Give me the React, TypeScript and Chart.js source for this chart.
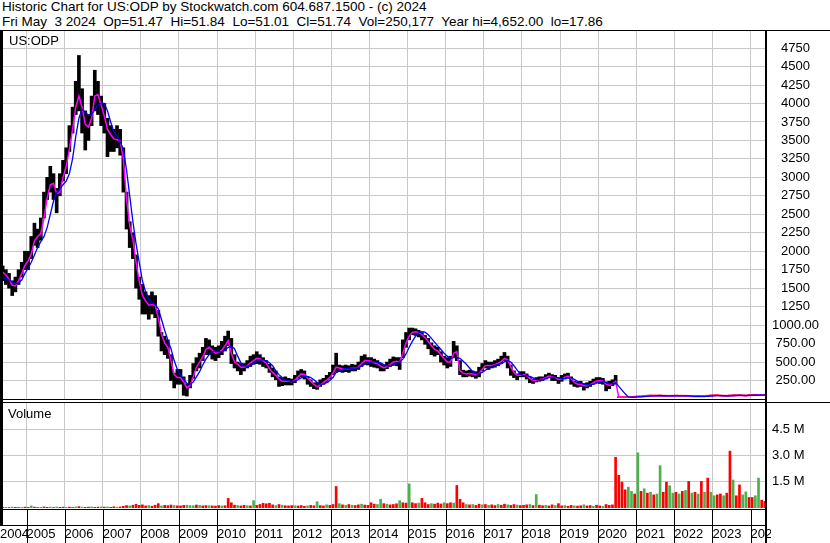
import { useEffect, useRef } from "react";
import { Chart, registerables } from "chart.js";

Chart.register(...registerables);

// ---------- data (monthly, first bar = May 2004) ----------
const firstYear = 2004;
const firstMonth = 5;

const yearLabels = ["2004", "2005", "2006", "2007", "2008", "2009", "2010", "2011", "2012", "2013", "2014", "2015", "2016", "2017", "2018", "2019", "2020", "2021", "2022", "2023", "2024"];
const priceTicks = [250, 500, 750, 1000, 1250, 1500, 1750, 2000, 2250, 2500, 2750, 3000, 3250, 3500, 3750, 4000, 4250, 4500, 4750];
const volumeTicks = [1.5, 3.0, 4.5];

const priceHigh = [
  1800, 1750, 1700, 1600, 1650, 1750, 1850, 2000,
  2000, 2200, 2380, 2300, 2450, 2800, 3000, 3150, 3050, 2850, 3050, 3230,
  3400, 3700, 3950, 4300, 4650, 4200, 3900, 3850, 4100, 4450, 4300, 4100,
  4000, 3800, 3700, 3650, 3700, 3650, 3400, 2800, 2400, 2250, 1950, 1650,
  1550, 1450, 1400, 1450, 1400, 1200, 900, 850, 800, 600, 350, 400,
  400, 300, 200, 320, 480, 560, 620, 700, 820, 800, 720, 700,
  720, 780, 850, 920, 820, 600, 500, 480, 480, 520, 580, 600,
  640, 600, 560, 520, 470, 420, 380, 300, 290, 300, 280, 270,
  320, 380, 400, 380, 300, 260, 220, 220, 260, 280, 320, 360,
  460, 620, 460, 450, 460, 450, 470, 460, 500, 580, 600, 560,
  560, 540, 520, 480, 460, 500, 540, 570, 560, 560, 800, 900,
  960, 960, 950, 930, 900, 860, 820, 760, 720, 700, 640, 580,
  560, 580, 780, 720, 520, 390, 380, 390, 380, 370, 430, 480,
  520, 500, 500, 520, 540, 580, 630, 580, 460, 380, 340, 370,
  370, 340, 300, 270, 290, 300, 300, 330, 350, 330, 320, 290,
  320, 340, 350, 300, 240, 230, 240, 210, 220, 240, 270, 290,
  290, 280, 230, 240, 260, 320, 23, 24, 24, 25, 30, 31,
  40, 38, 44, 46, 48, 48, 48, 48, 45, 45, 45, 46,
  48, 46, 48, 45, 42, 38, 37, 39, 37, 40, 46, 48,
  52, 52, 48, 44, 44, 48, 52, 53, 52, 49, 48, 56,
  56, 58, 58, 54, 51.84,
];

const priceLow = [
  1600, 1550, 1500, 1400, 1450, 1550, 1650, 1750,
  1750, 1900, 2080, 2050, 2150, 2450, 2700, 2800, 2700, 2520, 2750, 2950,
  3050, 3350, 3600, 3850, 3900, 3600, 3370, 3500, 3700, 3900, 3850, 3700,
  3600, 3280, 3350, 3350, 3400, 3300, 2800, 2300, 2050, 1900, 1500, 1350,
  1150, 1150, 1080, 1150, 1100, 850, 650, 600, 550, 250, 150, 200,
  200, 50, 40, 150, 280, 380, 420, 520, 600, 600, 540, 520,
  560, 600, 650, 720, 480, 420, 380, 330, 380, 420, 440, 470,
  480, 470, 440, 420, 360, 300, 260, 170, 180, 190, 190, 190,
  220, 280, 300, 270, 200, 170, 140, 130, 170, 200, 220, 270,
  330, 360, 370, 360, 370, 360, 380, 380, 400, 440, 470, 460,
  440, 430, 420, 380, 380, 410, 440, 460, 450, 400, 560, 700,
  800, 870, 860, 840, 800, 740, 680, 600, 580, 600, 500, 460,
  420, 440, 560, 520, 330, 300, 300, 310, 300, 280, 300, 380,
  420, 400, 420, 430, 450, 480, 520, 420, 320, 290, 260, 300,
  300, 270, 220, 210, 230, 240, 250, 270, 290, 250, 250, 210,
  240, 270, 280, 200, 170, 160, 170, 120, 150, 170, 200, 220,
  210, 200, 110, 140, 180, 200, 17.86, 20, 19, 20, 22, 25,
  29, 30, 34, 39, 42, 40, 41, 42, 38, 38, 37, 38,
  40, 38, 38, 38, 35, 30, 31, 34, 31, 32, 38, 43,
  44, 45, 40, 38, 38, 42, 45, 47, 46, 42, 42, 47,
  48, 50, 50, 47, 51.01,
];

const shortMA = [
  1720, 1680, 1620, 1540, 1530, 1600, 1700, 1810,
  1870, 1960, 2140, 2200, 2240, 2450, 2720, 2900, 2920, 2780, 2800, 3000,
  3150, 3380, 3650, 3950, 4100, 3950, 3720, 3680, 3800, 4100, 4120, 3980,
  3830, 3650, 3580, 3520, 3510, 3490, 3250, 2700, 2350, 2150, 1850, 1600,
  1400, 1330, 1270, 1280, 1270, 1100, 880, 760, 700, 520, 330, 290,
  290, 230, 150, 180, 300, 430, 500, 570, 670, 700, 660, 620,
  630, 660, 720, 790, 620, 500, 470, 430, 430, 450, 490, 520,
  550, 545, 515, 485, 410, 360, 320, 270, 240, 240, 240, 235,
  255, 300, 340, 335, 285, 240, 200, 165, 195, 225, 255, 290,
  350, 430, 420, 410, 410, 410, 415, 420, 435, 480, 520, 520,
  510, 490, 475, 445, 420, 440, 470, 500, 510, 500, 620, 760,
  850, 900, 910, 900, 870, 830, 780, 720, 670, 650, 600, 545,
  500, 500, 620, 640, 380, 350, 340, 345, 340, 330, 350, 400,
  455, 455, 455, 465, 485, 510, 550, 530, 430, 360, 320, 320,
  335, 315, 280, 250, 255, 265, 272, 290, 310, 300, 290, 265,
  270, 295, 310, 275, 225, 200, 200, 180, 180, 195, 220, 245,
  250, 245, 200, 185, 205, 240, 22, 22, 22, 22, 25, 27,
  32, 34, 37, 41, 44, 44, 44, 45, 43, 42, 41, 42,
  43, 43, 43, 42, 40, 36, 34, 35, 35, 35, 39, 44,
  47, 48, 46, 42, 41, 43, 47, 49, 49, 47, 45, 49,
  51, 53, 54, 52, 51,
];

const longMA = [
  1640, 1630, 1610, 1580, 1560, 1570, 1610, 1700,
  1770, 1850, 1950, 2050, 2130, 2200, 2320, 2500, 2680, 2790, 2840, 2900,
  2950, 3050, 3250, 3550, 3800, 3920, 3880, 3840, 3850, 3920, 3980, 4000,
  4000, 3900, 3750, 3620, 3560, 3480, 3380, 3100, 2750, 2400, 2100, 1850,
  1600, 1450, 1350, 1300, 1280, 1220, 1080, 930, 800, 680, 520, 400,
  320, 270, 210, 200, 230, 300, 370, 460, 540, 600, 640, 650,
  640, 645, 660, 700, 710, 680, 580, 490, 450, 440, 450, 480,
  510, 530, 530, 515, 490, 450, 380, 330, 290, 255, 245, 240,
  240, 260, 285, 305, 305, 290, 260, 225, 200, 200, 220, 250,
  290, 360, 380, 400, 415, 415, 415, 418, 425, 445, 470, 490,
  500, 505, 500, 490, 465, 450, 450, 460, 480, 500, 540, 610,
  700, 780, 850, 895, 910, 905, 870, 820, 770, 720, 670, 620,
  580, 550, 560, 560, 550, 510, 470, 420, 370, 345, 345, 360,
  390, 420, 440, 455, 465, 480, 505, 520, 500, 450, 390, 340,
  320, 315, 305, 285, 265, 260, 262, 275, 290, 295, 295, 285,
  275, 280, 290, 285, 265, 240, 215, 200, 190, 190, 200, 215,
  230, 240, 225, 210, 205, 220, 170, 120, 70, 28, 25, 26,
  28, 30, 33, 36, 40, 42, 43, 44, 44, 43, 42, 42,
  42, 42, 43, 43, 42, 40, 37, 36, 35, 35, 37, 40,
  43, 46, 46, 45, 43, 43, 44, 46, 48, 48, 47, 48,
  49, 51, 53, 53, 52,
];

// volume in millions of shares
const volume = [
  0.03, 0.04, 0.03, 0.05, 0.04, 0.03, 0.04, 0.05,
  0.04, 0.12, 0.05, 0.03, 0.04, 0.06, 0.04, 0.05, 0.03, 0.06, 0.04, 0.05,
  0.04, 0.05, 0.03, 0.06, 0.08, 0.05, 0.04, 0.05, 0.06, 0.04, 0.05, 0.06,
  0.05, 0.06, 0.04, 0.07, 0.05, 0.06, 0.1, 0.14, 0.12, 0.16, 0.21, 0.15,
  0.18, 0.12, 0.14, 0.1, 0.16, 0.25, 0.12, 0.15, 0.13, 0.17, 0.14, 0.12,
  0.12, 0.15, 0.16, 0.14, 0.13, 0.17, 0.15, 0.12, 0.14, 0.13, 0.12, 0.11,
  0.14, 0.12, 0.13, 0.55, 0.3, 0.16, 0.14, 0.12, 0.15, 0.13, 0.12, 0.42,
  0.15, 0.2, 0.27, 0.24, 0.27, 0.18, 0.14, 0.2, 0.16, 0.13, 0.12, 0.14,
  0.13, 0.12, 0.14, 0.1, 0.12, 0.15, 0.13, 0.36, 0.14, 0.12, 0.18, 0.15,
  0.2, 1.23, 0.25, 0.18, 0.15, 0.2, 0.16, 0.14, 0.18, 0.22, 0.17, 0.15,
  0.3, 0.22, 0.2, 0.5, 0.25, 0.22, 0.18, 0.2, 0.24, 0.42, 0.3, 0.28,
  1.38, 0.3, 0.25, 0.28, 0.55, 0.3, 0.2, 0.25, 0.22, 0.28, 0.23, 0.3,
  0.25, 0.3, 0.28, 1.29, 0.5, 0.3, 0.2, 0.18, 0.2, 0.15, 0.22, 0.18,
  0.2, 0.15, 0.18, 0.14, 0.2, 0.16, 0.22, 0.18, 0.15, 0.2, 0.17, 0.14,
  0.15, 0.18, 0.2, 0.14, 0.77, 0.16, 0.13, 0.15, 0.12, 0.18, 0.14, 0.25,
  0.12, 0.14, 0.1, 0.15, 0.12, 0.11, 0.13, 0.18, 0.12, 0.14, 0.1, 0.16,
  0.12, 0.1, 0.2, 0.15, 0.18, 2.9, 1.87, 1.48, 1.04, 1.19, 0.95, 0.8,
  3.15, 0.95, 1.1, 0.85, 0.9, 0.75, 0.8, 2.42, 0.9, 1.48, 1.27, 0.85,
  0.9, 0.8, 0.95, 1.0, 1.52, 0.85, 0.9, 0.8, 1.52, 0.9, 1.71, 0.9,
  0.7, 0.75, 0.8, 0.7, 0.85, 3.25, 1.6, 0.7, 1.32, 0.75, 0.92, 0.6,
  0.6, 0.7, 1.71, 0.45, 0.38,
];

// r = down (red), g = up (green), one letter per month
const volumeDirection =
  "rgrgrrgr" +
  "rgrrgrrgrgrr" + "grrgrgrrgrrg" + "rgrrgrrrgrrr" + "rrgrrrgrrrgr" +
  "rrgggrgrrgrr" + "rgrrrrgrrgrg" + "rrrrrrgrgrrr" + "grrrgrrgrrgr" +
  "rrgrgrgrrgrr" + "rrggrgrrrgrr" + "grrgrrrgrrrg" + "rrgrrrgrgrrg" +
  "rgrrgrrgrrgr" + "rrgrgrrgrrgr" + "rgrrgrrgrrgr" + "rgrrrrrrrggr" +
  "grgrgrggrrgg" + "rgrgrgrgrgrg" + "grrgrrgrrggr" + "rggrr";

const headerLine1 = "Historic Chart for US:ODP by Stockwatch.com 604.687.1500 - (c) 2024";
const headerLine2 = "Fri May  3 2024  Op=51.47  Hi=51.84  Lo=51.01  Cl=51.74  Vol=250,177  Year hi=4,652.00  lo=17.86";

// ---------- styling ----------
const FONT = "'Liberation Sans', Arial, Helvetica, sans-serif";
const GRID = "#c8c8c8";
const RED = "#ff0000";
const GREEN = "#4cb04c";
const X_MIN = 2004.3046;
const X_MAX = 2024.4044;
const PRICE_MAX = 4981;
const VOLUME_MAX = 6;

const monthX = (i: number) => firstYear + (firstMonth - 1 + i + 0.5) / 12;

const yearTicks = (axis: any) => {
  axis.ticks = yearLabels.map((l) => ({ value: Math.max(Number(l), X_MIN) }));
};

const noPad = (s: any) => {
  s.paddingLeft = 0;
  s.paddingRight = 0;
  s.paddingTop = 0;
  s.paddingBottom = 0;
};

const framePrice = {
  id: "framePrice",
  afterDraw(chart: any) {
    const { ctx, chartArea: a, width, height } = chart;
    ctx.save();
    ctx.fillStyle = "#000";
    ctx.fillRect(0, 0, width, 1);
    ctx.fillRect(0, 0, 3, height);
    ctx.fillRect(a.right - 1, 0, 2, height);
    ctx.fillRect(0, a.bottom, a.right, 1);
    ctx.restore();
  },
};

const frameVolume = {
  id: "frameVolume",
  afterDraw(chart: any) {
    const { ctx, chartArea: a, width, height, scales } = chart;
    const x = scales.x;
    ctx.save();
    // the last year label runs into the axis line and is cut just past it, as in the original
    ctx.fillStyle = "#fff";
    ctx.fillRect(a.right + 5, a.bottom + 18, width - a.right - 5, height - a.bottom - 18);
    ctx.fillStyle = "#000";
    ctx.fillRect(0, 2, width, 1);
    ctx.fillRect(0, a.bottom + 1, a.right, 1);
    ctx.fillRect(0, a.bottom + 17, a.right, 1);
    ctx.fillRect(0, 0, 3, a.bottom + 17);
    ctx.fillRect(a.right - 1, 0, 2, height);
    for (const t of x.ticks) {
      const px = Math.round(x.getPixelForValue(t.value));
      if (px > 3 && px < a.right - 1) ctx.fillRect(px, a.bottom + 1, 1, height - a.bottom - 1);
    }
    ctx.restore();
  },
};

export default function App() {
  const priceRef = useRef<HTMLCanvasElement>(null);
  const volRef = useRef<HTMLCanvasElement>(null);

  useEffect(() => {
    const priceChart = new Chart(priceRef.current as HTMLCanvasElement, {
      type: "bar",
      data: {
        datasets: [
          {
            type: "bar",
            data: priceHigh.map((h, i) => ({ x: monthX(i), y: [priceLow[i], h] })) as any,
            backgroundColor: priceHigh.map((h) => (h < 100 ? RED : "#000000")),
            barThickness: 3,
            minBarLength: 1,
            order: 3,
          },
          {
            type: "line",
            data: shortMA.map((v, i) => ({ x: monthX(i), y: v })),
            borderColor: "#ff00ff",
            borderWidth: 1.5,
            pointRadius: 0,
            tension: 0,
            order: 2,
          },
          {
            type: "line",
            data: longMA.map((v, i) => ({ x: monthX(i), y: v })),
            borderColor: "#0000ff",
            borderWidth: 1.3,
            pointRadius: 0,
            tension: 0,
            order: 1,
          },
        ],
      } as any,
      options: {
        animation: false,
        responsive: false,
        events: [],
        layout: { padding: { top: 1, bottom: 1, left: 0, right: 0 } },
        plugins: { legend: { display: false }, tooltip: { enabled: false } },
        scales: {
          x: {
            type: "linear",
            offset: false,
            min: X_MIN,
            max: X_MAX,
            afterBuildTicks: yearTicks,
            ticks: { display: false },
            grid: { color: GRID, drawTicks: false, offset: false },
            border: { display: false },
            afterFit: (s: any) => { s.height = 0; noPad(s); },
          },
          y: {
            type: "linear",
            position: "right",
            min: 0,
            max: PRICE_MAX,
            afterBuildTicks: (s: any) => { s.ticks = priceTicks.map((v) => ({ value: v })); },
            ticks: {
              autoSkip: false,
              color: "#000",
              font: { family: FONT, size: 13 },
              crossAlign: "center",
              padding: 6,
              callback: (v: any) => (Number(v) > 1000 ? String(v) : Number(v).toFixed(2)),
            },
            grid: { color: GRID, drawTicks: false },
            border: { display: false },
            afterFit: (s: any) => { s.width = 64; noPad(s); },
          },
        },
      } as any,
      plugins: [framePrice],
    });

    const volumeChart = new Chart(volRef.current as HTMLCanvasElement, {
      type: "bar",
      data: {
        datasets: [
          {
            type: "bar",
            data: volume.map((v, i) => ({ x: monthX(i), y: v })),
            backgroundColor: volume.map((_, i) => (volumeDirection[i] === "g" ? GREEN : RED)),
            barThickness: 2,
          },
        ],
      } as any,
      options: {
        animation: false,
        responsive: false,
        events: [],
        layout: { padding: { top: 3, bottom: 0, left: 0, right: 0 } },
        plugins: { legend: { display: false }, tooltip: { enabled: false } },
        scales: {
          x: {
            type: "linear",
            offset: false,
            min: X_MIN,
            max: X_MAX,
            afterBuildTicks: yearTicks,
            ticks: {
              autoSkip: false,
              maxRotation: 0,
              align: "start",
              padding: 19,
              color: "#000",
              font: { family: FONT, size: 13 },
              callback: (_v: any, index: number) => yearLabels[index],
            },
            grid: { color: GRID, drawTicks: false, offset: false },
            border: { display: false },
            afterFit: (s: any) => { s.height = 35; noPad(s); },
          },
          y: {
            type: "linear",
            position: "right",
            min: 0,
            max: VOLUME_MAX,
            afterBuildTicks: (s: any) => { s.ticks = volumeTicks.map((v) => ({ value: v })); },
            ticks: {
              autoSkip: false,
              color: "#000",
              font: { family: FONT, size: 13 },
              crossAlign: "center",
              padding: 6,
              callback: (v: any) => Number(v).toFixed(1) + " M",
            },
            grid: { color: GRID, drawTicks: false },
            border: { display: false },
            afterFit: (s: any) => { s.width = 64; noPad(s); },
          },
        },
      } as any,
      plugins: [frameVolume],
    });

    return () => {
      priceChart.destroy();
      volumeChart.destroy();
    };
  }, []);

  return (
    <div
      style={{
        position: "fixed",
        left: 0,
        top: 0,
        width: 830,
        height: 543,
        background: "#fff",
        overflow: "hidden",
        fontFamily: FONT,
        color: "#000",
      }}
    >
      <div style={{ position: "absolute", left: 2, top: -1, fontSize: 13.5, lineHeight: "15px", whiteSpace: "pre" }}>
        {headerLine1}
        {"\n"}
        {headerLine2}
      </div>
      <canvas
        ref={priceRef}
        width={830}
        height={370}
        style={{ position: "absolute", left: 0, top: 30, width: 830, height: 370 }}
      />
      <canvas
        ref={volRef}
        width={830}
        height={143}
        style={{ position: "absolute", left: 0, top: 400, width: 830, height: 143 }}
      />
      <div style={{ position: "absolute", left: 9, top: 33, fontSize: 13, lineHeight: "15px" }}>US:ODP</div>
      <div style={{ position: "absolute", left: 8, top: 406, fontSize: 13, lineHeight: "15px" }}>Volume</div>
    </div>
  );
}
